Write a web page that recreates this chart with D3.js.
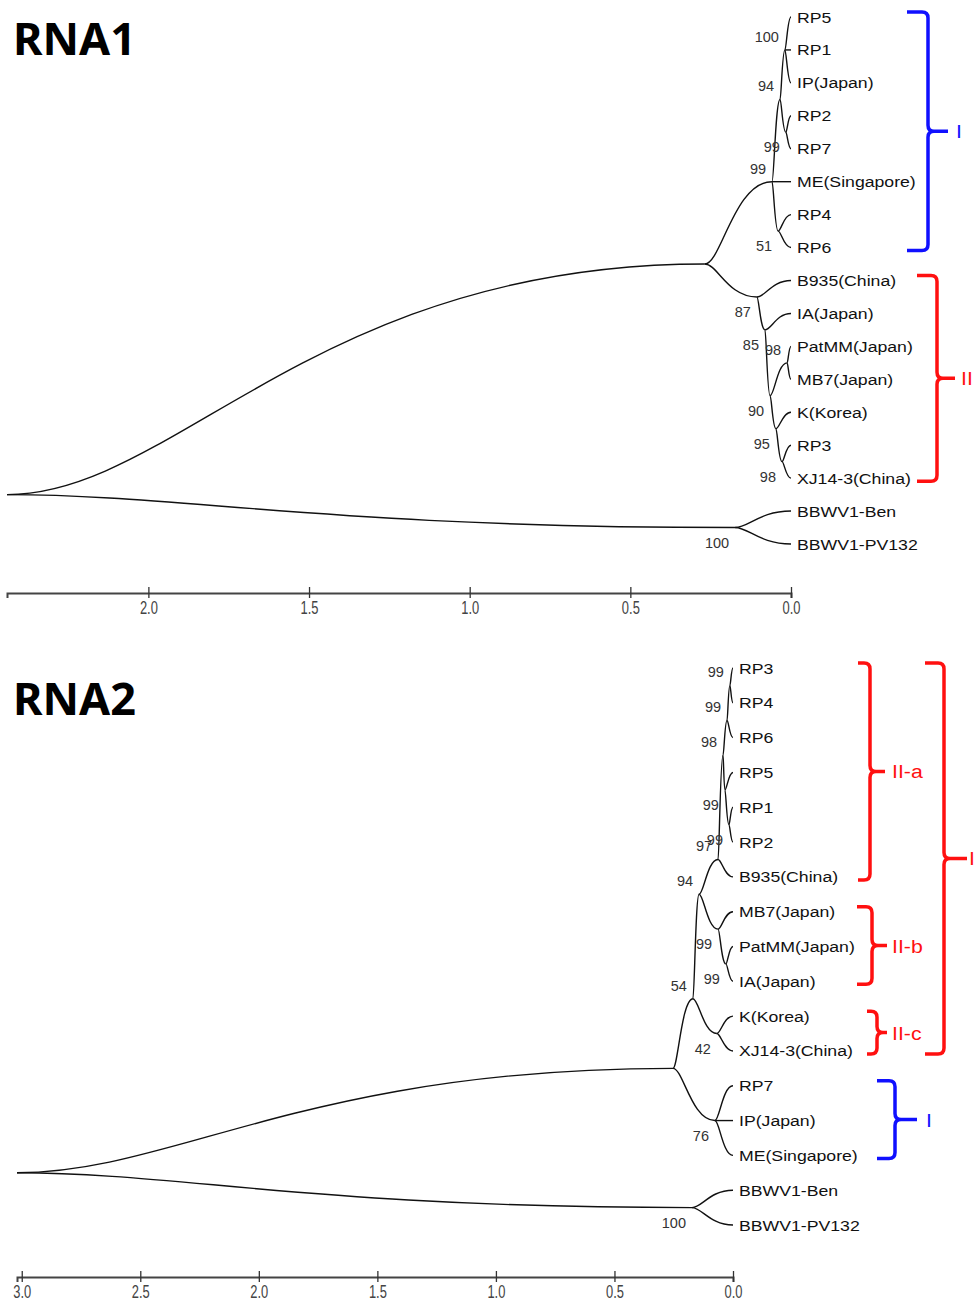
<!DOCTYPE html>
<html>
<head>
<meta charset="utf-8">
<script src="https://cdn.jsdelivr.net/npm/d3@7"></script>
<style>
  body { margin: 0; background: #fff; }
  svg { display: block; }
</style>
</head>
<body>
<div id="chartContainer"></div>
<script>
// ---- RNA1 tree ----
// leaves, top to bottom
const rna1Leaves = ["RP5", "RP1", "IP(Japan)", "RP2", "RP7", "ME(Singapore)", "RP4", "RP6",
    "B935(China)", "IA(Japan)", "PatMM(Japan)", "MB7(Japan)", "K(Korea)", "RP3", "XJ14-3(China)",
    "BBWV1-Ben", "BBWV1-PV132"];
// internal nodes: [id, children, height (distance), bootstrap]
const rna1Nodes = [
    ["a100", ["RP5", "RP1", "IP(Japan)"], 0.019, 100],
    ["a99a", ["RP2", "RP7"], 0.016, 99],
    ["a94", ["a100", "a99a"], 0.034, 94],
    ["a51", ["RP4", "RP6"], 0.040, 51],
    ["a99", ["a94", "ME(Singapore)", "a51"], 0.059, 99],
    ["a98b", ["RP3", "XJ14-3(China)"], 0.028, 98],
    ["a95", ["K(Korea)", "a98b"], 0.047, 95],
    ["a98a", ["PatMM(Japan)", "MB7(Japan)"], 0.012, 98],
    ["a90", ["a98a", "a95"], 0.065, 90],
    ["a85", ["IA(Japan)", "a90"], 0.081, 85],
    ["a87", ["B935(China)", "a85"], 0.106, 87],
    ["aIn", ["a99", "a87"], 0.268, null],
    ["aOut", ["BBWV1-Ben", "BBWV1-PV132"], 0.174, 100],
    ["aRoot", ["aIn", "aOut"], 2.44, null]
];
const rna1Ticks = [0.0, 0.5, 1.0, 1.5, 2.0];
// clade brackets: [label, first leaf, last leaf]
const rna1Brackets = [
    ["I", "RP5", "RP6"],
    ["II", "B935(China)", "XJ14-3(China)"]
];

// ---- RNA2 tree ----
const rna2Leaves = ["RP3", "RP4", "RP6", "RP5", "RP1", "RP2", "B935(China)", "MB7(Japan)",
    "PatMM(Japan)", "IA(Japan)", "K(Korea)", "XJ14-3(China)", "RP7", "IP(Japan)", "ME(Singapore)",
    "BBWV1-Ben", "BBWV1-PV132"];
const rna2Nodes = [
    ["b99a", ["RP3", "RP4"], 0.013, 99],
    ["b99b", ["b99a", "RP6"], 0.025, 99],
    ["b99d", ["RP1", "RP2"], 0.017, 99],
    ["b99c", ["RP5", "b99d"], 0.034, 99],
    ["b98", ["b99b", "b99c"], 0.042, 98],
    ["b97", ["b98", "B935(China)"], 0.063, 97],
    ["b99f", ["PatMM(Japan)", "IA(Japan)"], 0.030, 99],
    ["b99e", ["MB7(Japan)", "b99f"], 0.063, 99],
    ["b94", ["b97", "b99e"], 0.143, 94],
    ["b42", ["K(Korea)", "XJ14-3(China)"], 0.068, 42],
    ["b54", ["b94", "b42"], 0.169, 54],
    ["b76", ["RP7", "IP(Japan)", "ME(Singapore)"], 0.076, 76],
    ["bIn", ["b54", "b76"], 0.253, null],
    ["bOut", ["BBWV1-Ben", "BBWV1-PV132"], 0.173, 100],
    ["bRoot", ["bIn", "bOut"], 3.02, null]
];
const rna2Ticks = [0.0, 0.5, 1.0, 1.5, 2.0, 2.5, 3.0];
const rna2Brackets = [
    ["II-a", "RP3", "B935(China)"],
    ["II-b", "MB7(Japan)", "IA(Japan)"],
    ["II-c", "K(Korea)", "XJ14-3(China)"],
    ["I", "RP7", "ME(Singapore)"],
    ["II", "RP3", "XJ14-3(China)"]
];

const width = 975, height = 1302;

const svg = d3.select("#chartContainer")
    .append("svg")
    .attr("width", width)
    .attr("height", height)
    .attr("viewBox", [0, 0, width, height]);

svg.append("rect").attr("width", width).attr("height", height).attr("fill", "#fff");

// turn the node table into a nested object for d3.hierarchy
function buildTree(nodes, id) {
    const byId = new Map(nodes.map(n => [n[0], n]));
    function make(name) {
        const n = byId.get(name);
        if (!n) return { name: name, height: 0 };
        return { name: name, height: n[2], boot: n[3], children: n[1].map(make) };
    }
    return d3.hierarchy(make(id));
}

// curved branch: leaves parent flat, arrives flat at child
function branchPath(s, t) {
    const p = d3.path();
    const dx = t.x - s.x;
    p.moveTo(s.x, s.y);
    p.bezierCurveTo(s.x + 0.24 * dx, s.y, s.x + 0.44 * dx, t.y, t.x, t.y);
    return p.toString();
}

function bracketPath(top, bottom, xl, xv, xn) {
    const r = 6, mid = (top + bottom) / 2;
    const p = d3.path();
    p.moveTo(xl, top);
    p.lineTo(xv - r, top);
    p.quadraticCurveTo(xv, top, xv, top + r);
    p.lineTo(xv, mid - r);
    p.quadraticCurveTo(xv, mid, xv + r, mid);
    p.lineTo(xn, mid);
    p.moveTo(xv + r, mid);
    p.quadraticCurveTo(xv, mid, xv, mid + r);
    p.lineTo(xv, bottom - r);
    p.quadraticCurveTo(xv, bottom, xv - r, bottom);
    p.lineTo(xl, bottom);
    return p.toString();
}

function drawPanel(cfg) {
    const root = buildTree(cfg.nodes, cfg.rootId);

    const xScale = d3.scaleLinear()
        .domain([0, root.data.height])
        .range([cfg.tipX, cfg.rootX]);

    const yScale = d3.scalePoint()
        .domain(cfg.leaves)
        .range(cfg.yRange);

    // node positions
    root.eachAfter(d => {
        d.x = xScale(d.data.height);
        if (!d.children) {
            d.y = yScale(d.data.name);
        } else {
            const n = d.children.length;
            if (n % 2) {
                d.y = d.children[(n - 1) / 2].y;
            } else {
                const a = d.children[n / 2 - 1].leaves();
                const b = d.children[n / 2].leaves();
                d.y = (yScale(a[a.length - 1].data.name) + yScale(b[0].data.name)) / 2;
            }
        }
    });

    const g = svg.append("g");

    // title
    g.append("text")
        .attr("x", 13)
        .attr("y", cfg.titleY)
        .style("font-family", "'Noto Sans', 'Open Sans', sans-serif")
        .style("font-weight", "bold")
        .style("font-size", "45px")
        .attr("fill", "#000")
        .text(cfg.title);

    // branches
    g.selectAll(".branch")
        .data(root.links())
        .enter()
        .append("path")
        .attr("class", "branch")
        .attr("d", l => branchPath(l.source, l.target))
        .attr("fill", "none")
        .attr("stroke", "#111")
        .attr("stroke-width", 1.4);

    // leaf labels
    g.selectAll(".leaf")
        .data(root.leaves())
        .enter()
        .append("text")
        .attr("class", "leaf")
        .attr("transform", d => "translate(" + (d.x + 6) + "," + (d.y + 5.5) + ") scale(1.14,1)")
        .style("font-family", "'Liberation Sans', Arial, sans-serif")
        .style("font-size", "15.5px")
        .attr("fill", "#111")
        .text(d => d.data.name);

    // bootstrap values
    g.selectAll(".boot")
        .data(root.descendants().filter(d => d.children && d.data.boot != null))
        .enter()
        .append("text")
        .attr("class", "boot")
        .attr("x", d => d.x - 6)
        .attr("y", d => d.y + (d.parent && d.y < d.parent.y ? -13 : 15) + 5)
        .attr("text-anchor", "end")
        .style("font-family", "'Liberation Sans', Arial, sans-serif")
        .style("font-size", "14.5px")
        .attr("fill", "#333")
        .text(d => d.data.boot);

    // scale axis
    const axis = d3.axisBottom(xScale)
        .tickValues(cfg.ticks)
        .tickFormat(d3.format(".1f"))
        .tickSizeOuter(0)
        .tickSize(5);

    const ax = g.append("g")
        .attr("transform", "translate(0," + cfg.axisY + ")")
        .call(axis);
    ax.select(".domain").attr("stroke", "#444").attr("stroke-width", 2);
    ax.selectAll(".tick line").attr("y1", -6).attr("y2", 5).attr("stroke", "#333").attr("stroke-width", 1.3);
    ax.selectAll(".tick text")
        .attr("y", 8)
        .attr("transform", "scale(0.68,1)")
        .style("font-family", "'Liberation Sans', Arial, sans-serif")
        .style("font-size", "19px")
        .attr("fill", "#444");

    // clade brackets
    cfg.brackets.forEach((b, i) => {
        const lay = cfg.bracketLayout[i];
        const col = b[0].startsWith("II") ? "#ff1010" : "#1010ff";
        const top = yScale(b[1]) - 5;
        const bottom = yScale(b[2]) + 3;
        g.append("path")
            .attr("d", bracketPath(top, bottom, lay[0] - lay[1], lay[0], lay[0] + lay[2]))
            .attr("fill", "none")
            .attr("stroke", col)
            .attr("stroke-width", 3.5);
        g.append("text")
            .attr("transform", "translate(" + (lay[0] + lay[2] + lay[3]) + "," + ((top + bottom) / 2 + 7) + ") scale(1.12,1)")
            .style("font-family", "'Liberation Sans', Arial, sans-serif")
            .style("font-size", "19px")
            .attr("fill", col)
            .text(b[0]);
    });
}

drawPanel({
    title: "RNA1", titleY: 55,
    leaves: rna1Leaves, nodes: rna1Nodes, rootId: "aRoot",
    tipX: 791, rootX: 7, yRange: [17, 544],
    axisY: 593, ticks: rna1Ticks,
    brackets: rna1Brackets,
    // [vertical x, left reach, notch reach, label gap]
    bracketLayout: [[928, 21, 20, 8], [937, 20, 18, 6]]
});

drawPanel({
    title: "RNA2", titleY: 715,
    leaves: rna2Leaves, nodes: rna2Nodes, rootId: "bRoot",
    tipX: 733, rootX: 17, yRange: [668, 1225],
    axisY: 1277, ticks: rna2Ticks,
    brackets: rna2Brackets,
    bracketLayout: [[870, 12, 15, 7], [872, 15, 15, 5], [877, 10, 10, 5], [895, 18, 22, 9], [944, 19, 23, 2]]
});
</script>
</body>
</html>
